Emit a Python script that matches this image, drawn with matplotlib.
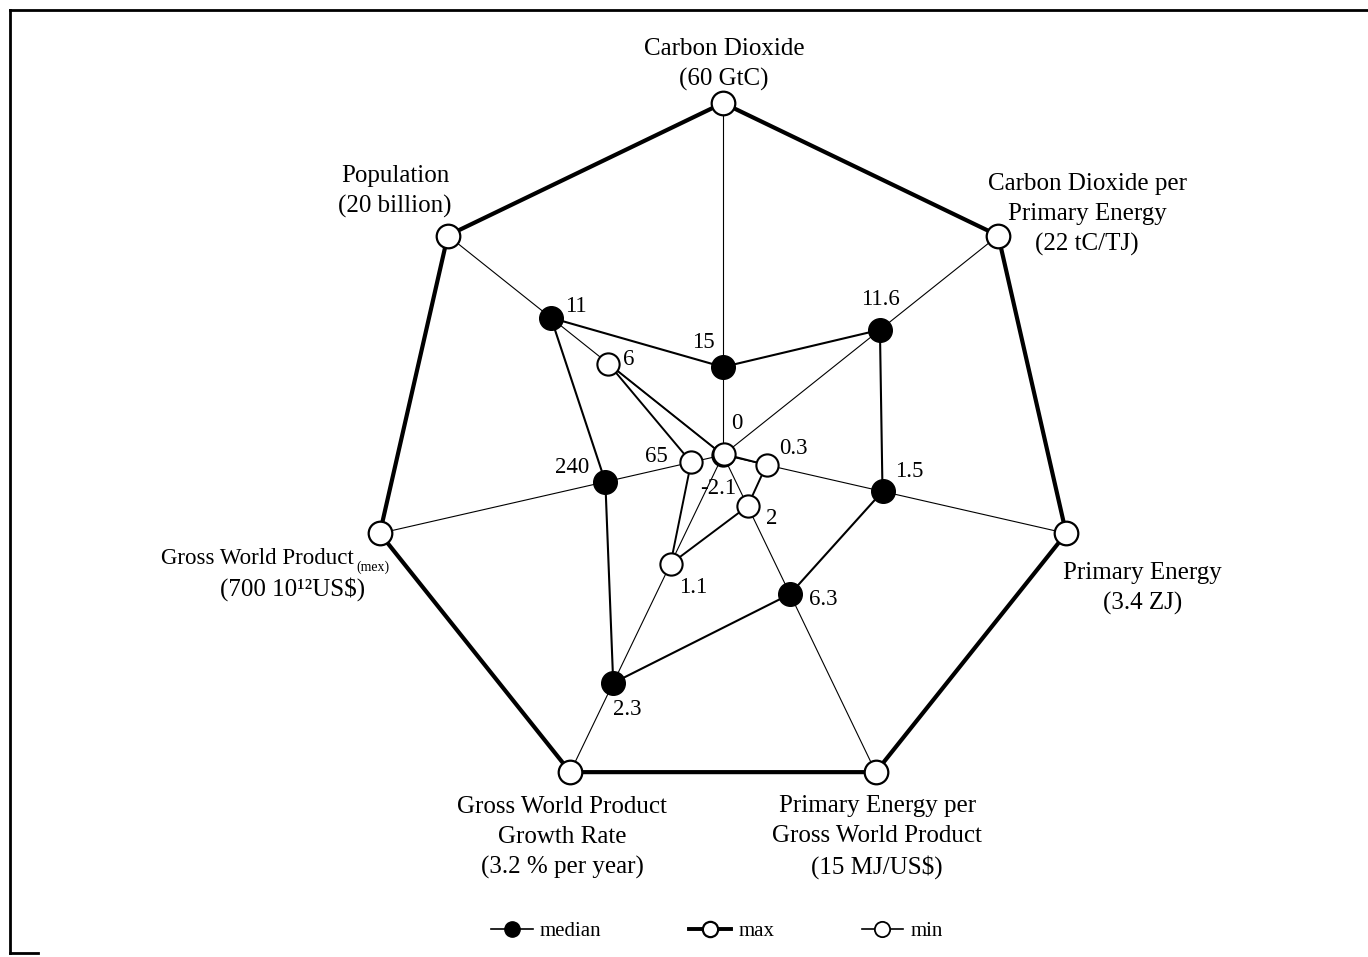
import matplotlib.pyplot as plt
from matplotlib.lines import Line2D
import numpy as np

plt.rcParams['font.family'] = ['Liberation Serif', 'DejaVu Serif']

# spokes, clockwise from the top
axis_titles = [
    "Carbon Dioxide\n(60 GtC)",
    "Carbon Dioxide per\nPrimary Energy\n(22 tC/TJ)",
    "Primary Energy\n(3.4 ZJ)",
    "Primary Energy per\nGross World Product\n(15 MJ/US$)",
    "Gross World Product\nGrowth Rate\n(3.2 % per year)",
    "Gross World Product",
    "Population\n(20 billion)",
]
gwp_unit = "(700 10¹²US$)"
gwp_sub = "(mex)"

axis_max = [60, 22, 3.4, 15, 3.2, 700, 20]
axis_min = [0, -2.2, -0.15, -0.5, 0, 0, -4]   # value at the centre of each spoke

median = [15, 11.6, 1.5, 6.3, 2.3, 240, 11]
minimum = [0, -2.1, 0.3, 2, 1.1, 65, 6]
median_lbl = ["15", "11.6", "1.5", "6.3", "2.3", "240", "11"]
minimum_lbl = ["0", "-2.1", "0.3", "2", "1.1", "65", "6"]

# label offsets in points
median_off = [(-14, 18), (0, 22), (19, 14), (24, -4), (10, -19), (-24, 10), (18, 8)]
minimum_off = [(10, 23), (-4, -25), (19, 12), (17, -9), (16, -17), (-25, 4), (15, 3)]
title_off = [(0.7, 28), (64, 15), (55, -40), (1, -47), (-6, -47), None, (-38, 32)]

n = len(axis_max)
ang = np.deg2rad(90 - np.arange(n) * 360 / n)
lo = np.array(axis_min, float)
hi = np.array(axis_max, float)


def to_xy(vals):
    r = (np.array(vals, float) - lo) / (hi - lo)
    x = r * np.cos(ang)
    y = r * np.sin(ang)
    return np.append(x, x[0]), np.append(y, y[0])


fig = plt.figure(figsize=(13.68, 9.57), dpi=100)
ax = fig.add_axes([0, 0, 1, 1])
R = 352.0
ax.set_xlim(-723 / R, (1368 - 723) / R)
ax.set_ylim(-(957 - 455) / R, 455 / R)
ax.axis('off')

xmax, ymax = to_xy(axis_max)
xmed, ymed = to_xy(median)
xmin, ymin = to_xy(minimum)

# spokes
for i in range(n):
    ax.plot([0, xmax[i]], [0, ymax[i]], color='black', lw=0.8, zorder=1)

ax.plot(xmax, ymax, color='black', lw=3.0, zorder=2)
ax.plot(xmin, ymin, color='black', lw=1.4, zorder=2)
ax.plot(xmed, ymed, color='black', lw=1.5, zorder=2)

ax.plot(xmax[:-1], ymax[:-1], 'o', ms=17, mfc='white', mec='black', mew=1.6, zorder=4)
ax.plot(xmin[:-1], ymin[:-1], 'o', ms=16, mfc='white', mec='black', mew=1.5, zorder=4)
ax.plot(xmed[:-1], ymed[:-1], 'o', ms=17, mfc='black', mec='black', zorder=5)

for i in range(n):
    ax.annotate(median_lbl[i], (xmed[i], ymed[i]), xytext=median_off[i],
                textcoords='offset points', ha='center', va='center', fontsize=16.5)
    ax.annotate(minimum_lbl[i], (xmin[i], ymin[i]), xytext=minimum_off[i],
                textcoords='offset points', ha='center', va='center', fontsize=16.5)
    if title_off[i] is not None:
        ax.annotate(axis_titles[i], (xmax[i], ymax[i]), xytext=title_off[i],
                    textcoords='offset points', ha='center', va='center',
                    fontsize=18, linespacing=1.45, multialignment='center')

# gross world product title has a subscript, so it is put together by hand
g = 5
ax.annotate(axis_titles[g], (xmax[g], ymax[g]), xytext=(-18.5, -18),
            textcoords='offset points', ha='right', va='center', fontsize=16.5, zorder=3)
ax.annotate(gwp_sub, (xmax[g], ymax[g]), xytext=(-17, -24.5),
            textcoords='offset points', ha='left', va='center', fontsize=10, zorder=3)
ax.annotate(gwp_unit, (xmax[g], ymax[g]), xytext=(-63, -40),
            textcoords='offset points', ha='center', va='center', fontsize=18, zorder=3)

handles = [
    Line2D([], [], color='black', lw=1.2, marker='o', ms=11, mfc='black', mec='black'),
    Line2D([], [], color='black', lw=2.8, marker='o', ms=11, mfc='white', mec='black', mew=1.6),
    Line2D([], [], color='black', lw=1.2, marker='o', ms=11, mfc='white', mec='black', mew=1.3),
]
ax.legend(handles, ["median", "max", "min"], loc='center',
          bbox_to_anchor=(717 / 1368, 1 - 931 / 957), bbox_transform=fig.transFigure,
          ncol=3, frameon=False, fontsize=15, handlelength=2.0,
          handletextpad=0.35, columnspacing=4.2)

# border on the left, top and a bit of the bottom
fx0 = 10 / 1368
fy_top = 1 - 10 / 957
fy_bot = 1 - 953 / 957
fig.add_artist(Line2D([fx0, fx0], [fy_bot, fy_top], color='black', lw=2, transform=fig.transFigure))
fig.add_artist(Line2D([fx0, 1.0], [fy_top, fy_top], color='black', lw=2, transform=fig.transFigure))
fig.add_artist(Line2D([fx0, 38 / 1368], [fy_bot, fy_bot], color='black', lw=2, transform=fig.transFigure))

fig.savefig('out.png', dpi=100)
